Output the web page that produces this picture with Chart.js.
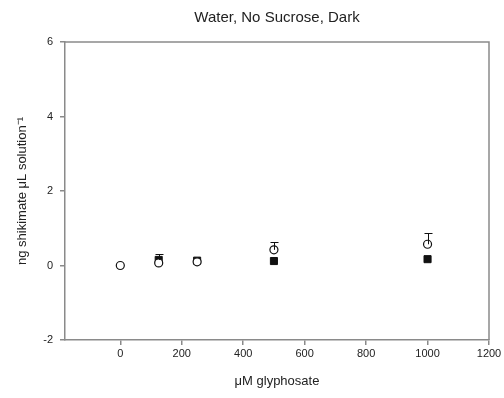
<!DOCTYPE html>
<html>
<head>
<meta charset="utf-8">
<script src="https://cdn.jsdelivr.net/npm/chart.js@4.4.1/dist/chart.umd.min.js"></script>
<style>
  html, body { margin: 0; padding: 0; background: #fff; }
  #wrap { width: 504px; height: 398px; }
</style>
</head>
<body>
<div id="wrap"><canvas id="grafico" width="504" height="398"></canvas></div>
<script>
// datos
const glifosato = [0, 125, 250, 500, 1000];
const abiertos = [0.0, 0.07, 0.10, 0.42, 0.57];
const abiertosErr = [0, 0, 0, 0.2, 0.3];
const llenos = [null, 0.15, 0.13, 0.12, 0.17];
const llenosErr = [0, 0.15, 0, 0, 0];
const xTicks = [0, 200, 400, 600, 800, 1000, 1200];
const yTicks = [-2, 0, 2, 4, 6];

const gris = '#8a8a8a';
const fuente = 'Arial, "Liberation Sans"';

function puntos(ys) {
    return glifosato.map((x, i) => ({ x: x, y: ys[i] }));
}

// barras de error (solo hacia arriba) y marco superior/derecho
const barrasError = {
    id: 'barrasError',
    afterDatasetsDraw(chart) {
        const ctx = chart.ctx;
        const xs = chart.scales.x, ys = chart.scales.y;
        ctx.save();
        ctx.strokeStyle = '#111';
        ctx.lineWidth = 1;
        chart.data.datasets.forEach(ds => {
            if (!ds.err) return;
            ds.data.forEach((p, i) => {
                const e = ds.err[i];
                if (p.y == null || !e) return;
                const px = Math.round(xs.getPixelForValue(p.x)) + 0.5;
                const y0 = ys.getPixelForValue(p.y);
                const y1 = Math.round(ys.getPixelForValue(p.y + e)) + 0.5;
                ctx.beginPath();
                ctx.moveTo(px, y0);
                ctx.lineTo(px, y1);
                ctx.moveTo(px - 4, y1);
                ctx.lineTo(px + 4, y1);
                ctx.stroke();
            });
        });
        ctx.restore();
    },
    beforeDatasetsDraw(chart) {
        const a = chart.chartArea;
        const ctx = chart.ctx;
        ctx.save();
        ctx.strokeStyle = gris;
        ctx.lineWidth = 1.5;
        ctx.beginPath();
        ctx.moveTo(a.left, a.top);
        ctx.lineTo(a.right, a.top);
        ctx.lineTo(a.right, a.bottom);
        ctx.stroke();
        ctx.restore();
    }
};

new Chart(document.getElementById('grafico').getContext('2d'), {
    type: 'scatter',
    data: {
        datasets: [{
            label: 'abiertos',
            data: puntos(abiertos),
            err: abiertosErr,
            pointStyle: 'circle',
            pointRadius: 4,
            pointBackgroundColor: '#fff',
            pointBorderColor: '#111',
            pointBorderWidth: 1.2,
            order: 1
        }, {
            label: 'llenos',
            data: puntos(llenos),
            err: llenosErr,
            pointStyle: 'rect',
            pointRadius: 5,
            pointBackgroundColor: '#111',
            pointBorderColor: '#111',
            pointBorderWidth: 1,
            order: 2
        }]
    },
    options: {
        responsive: false,
        animation: false,
        layout: { padding: { right: 15, left: 0, top: 0, bottom: 0 } },
        plugins: {
            legend: { display: false },
            tooltip: { enabled: false },
            title: {
                display: true,
                fullSize: false,
                text: 'Water, No Sucrose, Dark',
                color: '#222',
                font: { family: fuente, size: 15, weight: 'normal' },
                padding: { top: 9, bottom: 15 }
            }
        },
        scales: {
            x: {
                type: 'linear',
                min: -180,
                max: 1200,
                afterBuildTicks: ax => { ax.ticks = xTicks.map(v => ({ value: v })); },
                afterFit: ax => { ax.height = 58; },
                border: { color: gris, width: 1.5 },
                grid: { drawOnChartArea: false, drawTicks: true, tickLength: 5, color: gris, lineWidth: 1.5 },
                ticks: { color: '#222', padding: 2, font: { family: fuente, size: 11 }, callback: v => String(v) },
                title: {
                    display: true,
                    text: '\u03bcM glyphosate',
                    color: '#222',
                    font: { family: fuente, size: 13 },
                    padding: { top: 4, bottom: 9 }
                }
            },
            y: {
                min: -2,
                max: 6,
                afterBuildTicks: ax => { ax.ticks = yTicks.map(v => ({ value: v })); },
                afterFit: ax => { ax.width = 65; },
                border: { color: gris, width: 1.5 },
                grid: { drawOnChartArea: false, drawTicks: true, tickLength: 5, color: gris, lineWidth: 1.5 },
                ticks: { color: '#222', padding: 7, font: { family: fuente, size: 11 }, callback: v => String(v) },
                title: {
                    display: true,
                    text: 'ng shikimate \u03bcL solution\u207b\u00b9',
                    color: '#222',
                    font: { family: fuente, size: 13 },
                    padding: { top: 15, bottom: 0 }
                }
            }
        }
    },
    plugins: [barrasError]
});
</script>
</body>
</html>
